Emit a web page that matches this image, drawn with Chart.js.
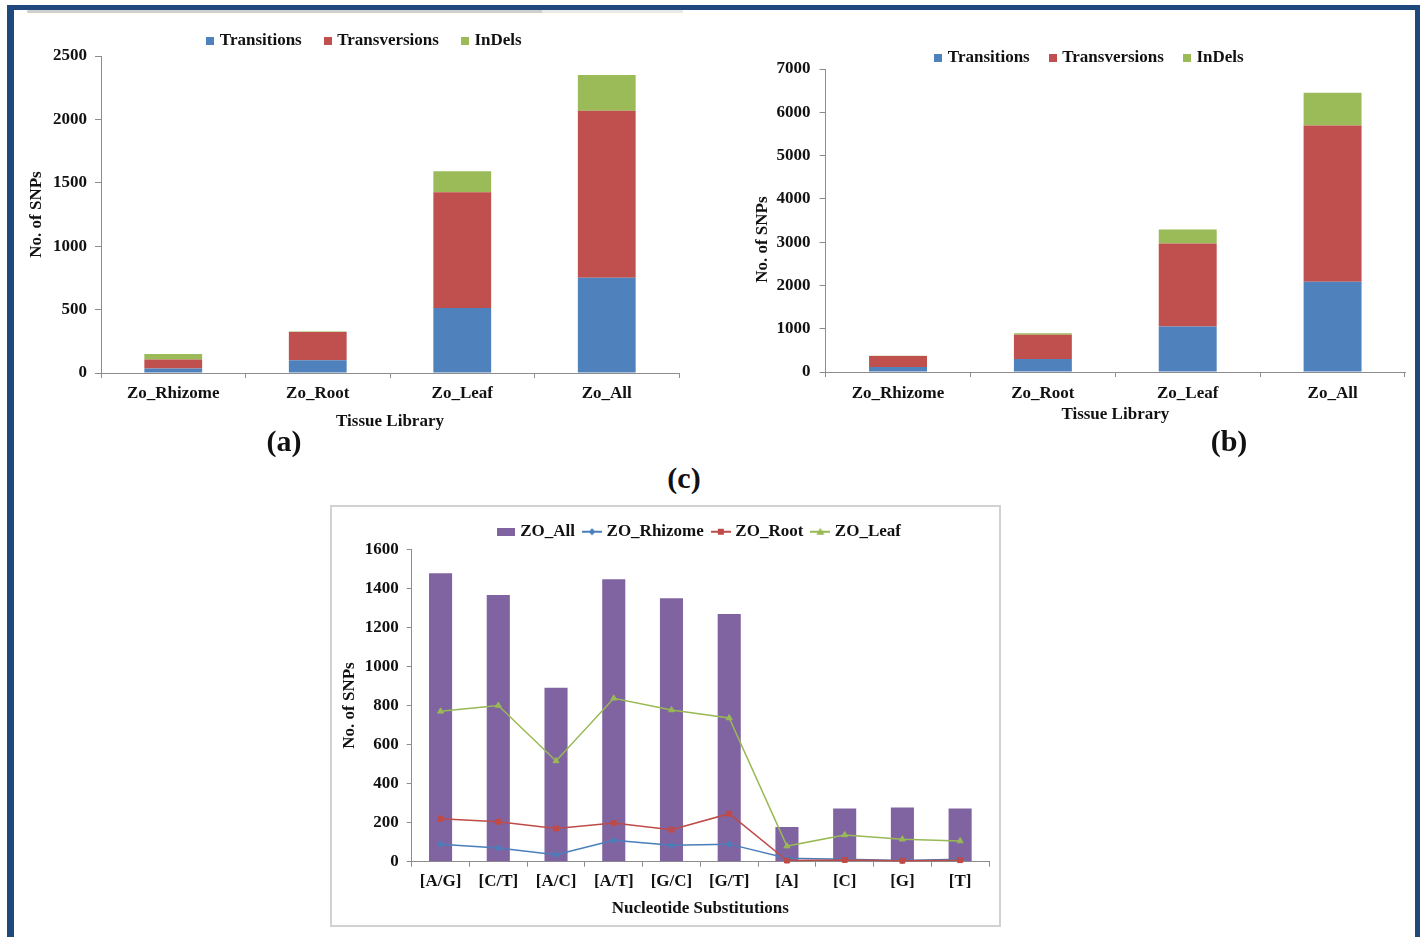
<!DOCTYPE html>
<html>
<head>
<meta charset="utf-8">
<script src="https://cdn.jsdelivr.net/npm/chart.js@4.4.1/dist/chart.umd.min.js"></script>
<style>
body { margin:0; background:#fff; width:1422px; height:937px; overflow:hidden; position:relative; font-family:'Liberation Serif','Times New Roman',serif; }
#frame { position:absolute; left:7px; top:5px; width:1401px; height:940px; border-left:7px solid #1f497d; border-top:5px solid #1f497d; border-right:5px solid #1f497d; }
.shade { position:absolute; top:10px; height:3px; }
#boxC { position:absolute; left:330px; top:505px; width:671px; height:422px; box-sizing:border-box; border:2px solid #d2d2d2; }
canvas { position:absolute; }
.tag { position:absolute; font-weight:bold; font-size:30px; line-height:1; color:#111; transform:translate(-50%,-50%); }
</style>
</head>
<body>
<div id="frame"></div>
<div class="shade" style="left:27px;width:515px;background:#cfcfcf;border-radius:2px 0 0 2px"></div>
<div class="shade" style="left:542px;width:141px;background:#e9e9e9"></div>
<div id="boxC"></div>
<canvas id="chartA" width="700" height="452" style="left:0;top:-20px"></canvas>
<canvas id="chartB" width="722" height="425" style="left:700px;top:0"></canvas>
<canvas id="chartC" width="671" height="422" style="left:330px;top:505px"></canvas>
<div class="tag" style="left:284px;top:441px">(a)</div>
<div class="tag" style="left:1229px;top:441px">(b)</div>
<div class="tag" style="left:684px;top:478px">(c)</div>
<script>
// tissue libraries, panels (a) and (b)
const tissues = ["Zo_Rhizome", "Zo_Root", "Zo_Leaf", "Zo_All"];
const transitionsA = [35, 100, 512, 751];
const transversionsA = [72, 223, 914, 1317];
const indelsA = [42, 5, 165, 283];
const transitionsB = [115, 300, 1050, 2087];
const transversionsB = [255, 560, 1920, 3608];
const indelsB = [8, 38, 322, 754];

// nucleotide substitutions, panel (c)
const subs = ["[A/G]", "[C/T]", "[A/C]", "[A/T]", "[G/C]", "[G/T]", "[A]", "[C]", "[G]", "[T]"];
const zoAll = [1477, 1366, 891, 1446, 1349, 1269, 178, 273, 277, 272];
const zoRhizome = [90, 70, 36, 110, 84, 90, 18, 12, 6, 12];
const zoRoot = [220, 205, 170, 198, 164, 246, 6, 9, 5, 8];
const zoLeaf = [770, 800, 516, 837, 777, 736, 80, 137, 115, 106];

const blue = "#4f81bd", red = "#c0504d", green = "#9bbb59", purple = "#8064a2";
const axisGray = "#8c8c8c";

Chart.defaults.font.family = "'Liberation Serif','Times New Roman',serif";
Chart.defaults.font.size = 17;
Chart.defaults.font.weight = "bold";
Chart.defaults.color = "#111";
Chart.defaults.animation = false;

function squareIcon(color, w, h) {
  const c = document.createElement("canvas");
  c.width = w; c.height = h;
  const g = c.getContext("2d");
  g.fillStyle = color;
  g.fillRect(0, 0, w, h);
  return c;
}

function lineIcon(color, shape) {
  const c = document.createElement("canvas");
  c.width = 20; c.height = 10;
  const g = c.getContext("2d");
  g.strokeStyle = color; g.fillStyle = color; g.lineWidth = 2;
  g.beginPath(); g.moveTo(0, 5); g.lineTo(20, 5); g.stroke();
  g.beginPath();
  if (shape == "diamond") { g.moveTo(10, 1.5); g.lineTo(13.5, 5); g.lineTo(10, 8.5); g.lineTo(6.5, 5); }
  else if (shape == "square") { g.rect(7, 2, 6, 6); }
  else { g.moveTo(10, 1); g.lineTo(14, 8); g.lineTo(6, 8); }
  g.closePath(); g.fill();
  return c;
}

function iconLabels(icons) {
  return function(chart) {
    const items = Chart.defaults.plugins.legend.labels.generateLabels(chart);
    items.forEach(it => { it.pointStyle = icons[it.datasetIndex]; });
    return items;
  };
}

function yAxis(max, step, width, titlePad, text, tickPad, tickLen) {
  return {
    min: 0, max: max, stacked: true,
    ticks: { stepSize: step, padding: tickPad, color: "#111", callback: v => String(v) },
    grid: { drawOnChartArea: false, tickLength: tickLen, color: axisGray },
    border: { color: axisGray },
    title: { display: true, text: text, color: "#111", padding: { top: titlePad, bottom: 0 } },
    afterFit(s) { s.width = width; }
  };
}

function xAxis(height, tickPad, text) {
  return {
    stacked: true,
    ticks: { padding: tickPad, color: "#111", maxRotation: 0, autoSkip: false },
    grid: { drawOnChartArea: false, tickLength: 5, color: axisGray },
    border: { color: axisGray },
    title: { display: true, text: text, color: "#111", padding: 0 },
    afterFit(s) { s.height = height; }
  };
}

const sq = [squareIcon(blue, 8, 8), squareIcon(red, 8, 8), squareIcon(green, 8, 8)];

function stackedPanel(id, t, tv, ind, opts) {
  return new Chart(document.getElementById(id), {
    type: "bar",
    data: {
      labels: tissues,
      datasets: [
        { label: "Transitions", data: t, backgroundColor: blue },
        { label: "Transversions", data: tv, backgroundColor: red },
        { label: "InDels", data: ind, backgroundColor: green }
      ]
    },
    options: {
      responsive: false,
      events: [],
      barPercentage: 0.4,
      categoryPercentage: 1,
      layout: { padding: opts.pad },
      plugins: {
        tooltip: { enabled: false },
        legend: {
          maxHeight: opts.legendH,
          labels: { usePointStyle: true, pointStyleWidth: 2, padding: opts.legendPad, color: "#111", generateLabels: iconLabels(sq) }
        }
      },
      scales: {
        x: xAxis(opts.xH, opts.xPad, "Tissue Library"),
        y: yAxis(opts.max, opts.step, opts.yW, opts.titlePad, opts.yTitle, opts.yPad, 6)
      }
    }
  });
}

stackedPanel("chartA", transitionsA, transversionsA, indelsA, {
  pad: { left: 52, right: 21, top: 27.5, bottom: 0 },
  legendH: 48.5, legendPad: 25, xH: 59, xPad: 5,
  max: 2500, step: 500, yW: 49, titlePad: -25.2, yTitle: "No. of SNPs", yPad: 8
});

stackedPanel("chartB", transitionsB, transversionsB, indelsB, {
  pad: { left: 76, right: 17, top: 27.5, bottom: 0 },
  legendH: 41.5, legendPad: 22, xH: 53, xPad: 6,
  max: 7000, step: 1000, yW: 49.6, titlePad: -23.9, yTitle: "No. of SNPs         ", yPad: 9
});

const iconsC = [squareIcon(purple, 18, 8), lineIcon("#4a7ebb", "diamond"), lineIcon("#be4b48", "square"), lineIcon("#98b954", "triangle")];

const yC = yAxis(1600, 200, 47.7, -24.7, "No. of SNPs", 8, 5);
yC.stacked = false;
const xC = xAxis(56.8, 5, "Nucleotide Substitutions");
xC.stacked = false;

new Chart(document.getElementById("chartC"), {
  type: "bar",
  data: {
    labels: subs,
    datasets: [
      { label: "ZO_All", data: zoAll, backgroundColor: purple, barPercentage: 0.4, categoryPercentage: 1, order: 3 },
      { type: "line", label: "ZO_Rhizome", data: zoRhizome, borderColor: "#4a7ebb", backgroundColor: "#4a7ebb",
        borderWidth: 1.5, pointStyle: "rectRot", pointRadius: 3, pointBorderWidth: 1, clip: false, order: 2 },
      { type: "line", label: "ZO_Root", data: zoRoot, borderColor: "#be4b48", backgroundColor: "#be4b48",
        borderWidth: 1.5, pointStyle: "rect", pointRadius: 3.5, pointBorderWidth: 1, clip: false, order: 1 },
      { type: "line", label: "ZO_Leaf", data: zoLeaf, borderColor: "#98b954", backgroundColor: "#98b954",
        borderWidth: 1.5, pointStyle: "triangle", pointRadius: 3.5, pointBorderWidth: 1, clip: false, order: 0 }
    ]
  },
  options: {
    responsive: false,
    events: [],
    layout: { padding: { left: 34, right: 12, top: 7.2, bottom: 8.5 } },
    plugins: {
      tooltip: { enabled: false },
      legend: {
        fullSize: false,
        maxHeight: 37.1,
        labels: { usePointStyle: true, pointStyleWidth: 12, padding: 11, color: "#111",
          generateLabels: iconLabels(iconsC), sort: (a, b) => a.datasetIndex - b.datasetIndex }
      }
    },
    scales: { x: xC, y: yC }
  }
});
</script>
</body>
</html>
